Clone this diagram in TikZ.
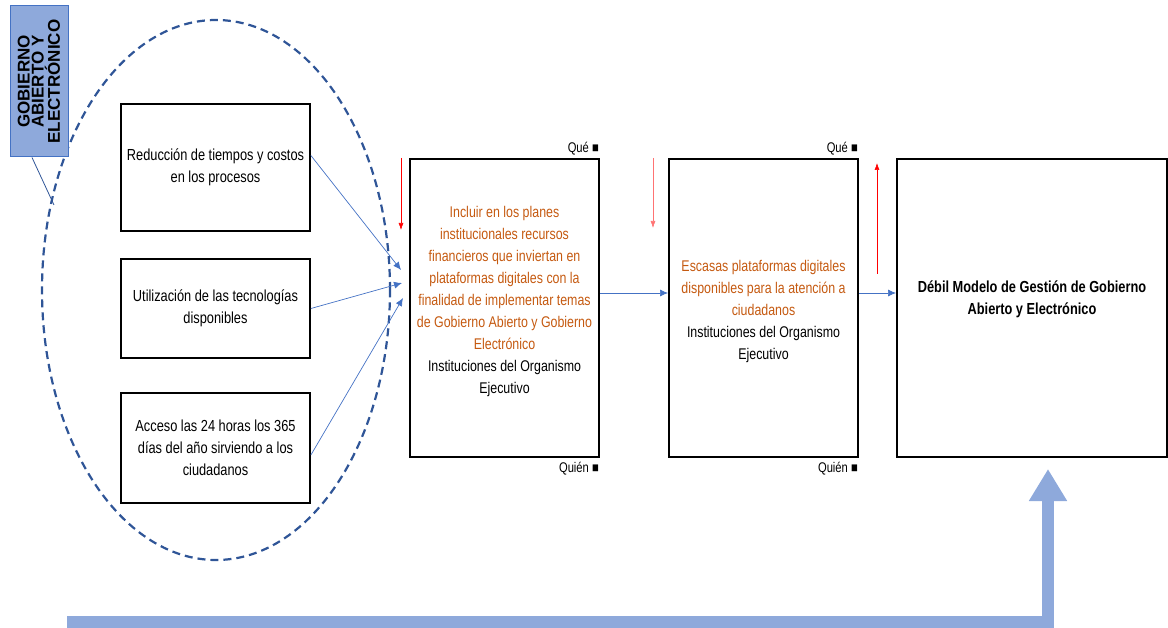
\documentclass[tikz,border=0pt]{standalone}
\usepackage{fontspec}
\setmainfont{Liberation Sans}[FakeStretch=0.80]
\newfontfamily\headfont{Liberation Sans}
\usepackage{xcolor}
\usetikzlibrary{arrows.meta}
\usetikzlibrary{calc}
\definecolor{linkblue}{HTML}{4472C4}
\definecolor{ovalblue}{HTML}{2F5597}
\definecolor{headblue}{HTML}{8EA9DB}
\definecolor{textorange}{HTML}{C55A11}
\tikzset{
  causebox/.style={draw, line width=1.8pt, minimum width=189pt, align=center, font=\fontsize{16}{22}\selectfont},
  mainbox/.style={draw, line width=2pt, minimum height=298pt, inner xsep=1pt, align=center, font=\fontsize{15.5}{22}\selectfont},
  link/.style={draw=linkblue, line width=0.7pt, arrows={-Latex[length=8pt, width=7pt]}},
  redlink/.style={draw=red, line width=0.6pt, arrows={-Latex[length=7pt, width=5pt]}},
  tag/.style={font=\fontsize{14}{14}\selectfont, inner sep=1pt},
}

\begin{document}
\begin{tikzpicture}[x=1pt, y=-1pt]
\useasboundingbox (0,0) rectangle (1168,628);
\draw [ovalblue, line width=2.2pt, dash pattern=on 8pt off 5pt] (216,290) ellipse [x radius=174pt, y radius=270pt];
\node [draw=linkblue, fill=headblue, line width=1pt, rotate=90, minimum width=151pt, minimum height=58pt, inner sep=1pt, align=center, font=\headfont\bfseries\fontsize{17}{14}\selectfont] (tema) at (39,81.5) {GOBIERNO\\ABIERTO Y\\ELECTRÓNICO};
\coordinate (ovaltouch) at (54,205);
\draw [ovalblue, line width=0.8pt] ([xshift=-7pt]tema.west) -- (ovaltouch);

\node [causebox, minimum height=127pt] (reduc) at (215.5,167.5) {Reducción de tiempos y costos\\en los procesos};
\node [causebox, minimum height=99pt] (tecno) at (215.5,308.5) {Utilización de las tecnologías\\disponibles};
\node [causebox, minimum height=110pt] (acceso) at (215.5,448) {Acceso las 24 horas los 365\\días del año sirviendo a los\\ciudadanos};

\node [mainbox, minimum width=189pt] (incluir) at (504.5,308) {\parbox{187pt}{\centering\color{textorange}Incluir en los planes\\institucionales recursos\\financieros que inviertan en\\plataformas digitales con la\\finalidad de implementar temas\\de Gobierno Abierto y Gobierno\\Electrónico\\\color{black}Instituciones del Organismo\\Ejecutivo\par\vspace{14pt}}};
\node [mainbox, minimum width=189pt] (escasas) at (763.5,308) {\parbox{187pt}{\vspace*{7pt}\centering\color{textorange}Escasas plataformas digitales\\disponibles para la atención a\\ciudadanos\\\color{black}Instituciones del Organismo\\Ejecutivo}};
\node [mainbox, minimum width=270pt, font=\bfseries\fontsize{16}{22}\selectfont] (debil) at (1032,308) {\raisebox{32pt}{\parbox{262pt}{\centering Débil Modelo de Gestión de Gobierno\\Abierto y Electrónico}}};

\node [tag, anchor=south east] (queA) at ([yshift=2pt]incluir.north east) {Qué ■};
\node [tag, anchor=north east] (quienA) at ([yshift=-3pt]incluir.south east) {Quién ■};
\node [tag, anchor=south east] (queB) at ([yshift=2pt]escasas.north east) {Qué ■};
\node [tag, anchor=north east] (quienB) at ([yshift=-3pt]escasas.south east) {Quién ■};

\coordinate (inA1) at (401,270);
\coordinate (inA2) at (402,283);
\coordinate (inA3) at (403,298);
\draw [link] ([yshift=12pt]reduc.east) -- (inA1);
\draw [link] (tecno.east) -- (inA2);
\draw [link] ([yshift=-7pt]acceso.east) -- (inA3);
\draw [link] ([yshift=15pt]incluir.east) -- ([yshift=15pt]escasas.west);
\draw [link] ([yshift=15pt]escasas.east) -- ([yshift=15pt]debil.west);

\draw [redlink] ([xshift=-8pt]incluir.north west) -- ++(0,72);
\draw [redlink, draw=red!55] ([xshift=-15pt]escasas.north west) -- ++(0,70);
\coordinate (upfoot) at (877,274);
\coordinate (uptip) at (877,163);
\draw [redlink] (upfoot) -- (uptip);

\coordinate (barstart) at (67,622);
\draw [headblue, line width=12pt, arrows={-{Triangle[length=32pt, width=36pt]}}] (barstart) -| ([xshift=16pt, yshift=-11pt]debil.south);
\end{tikzpicture}
\end{document}
